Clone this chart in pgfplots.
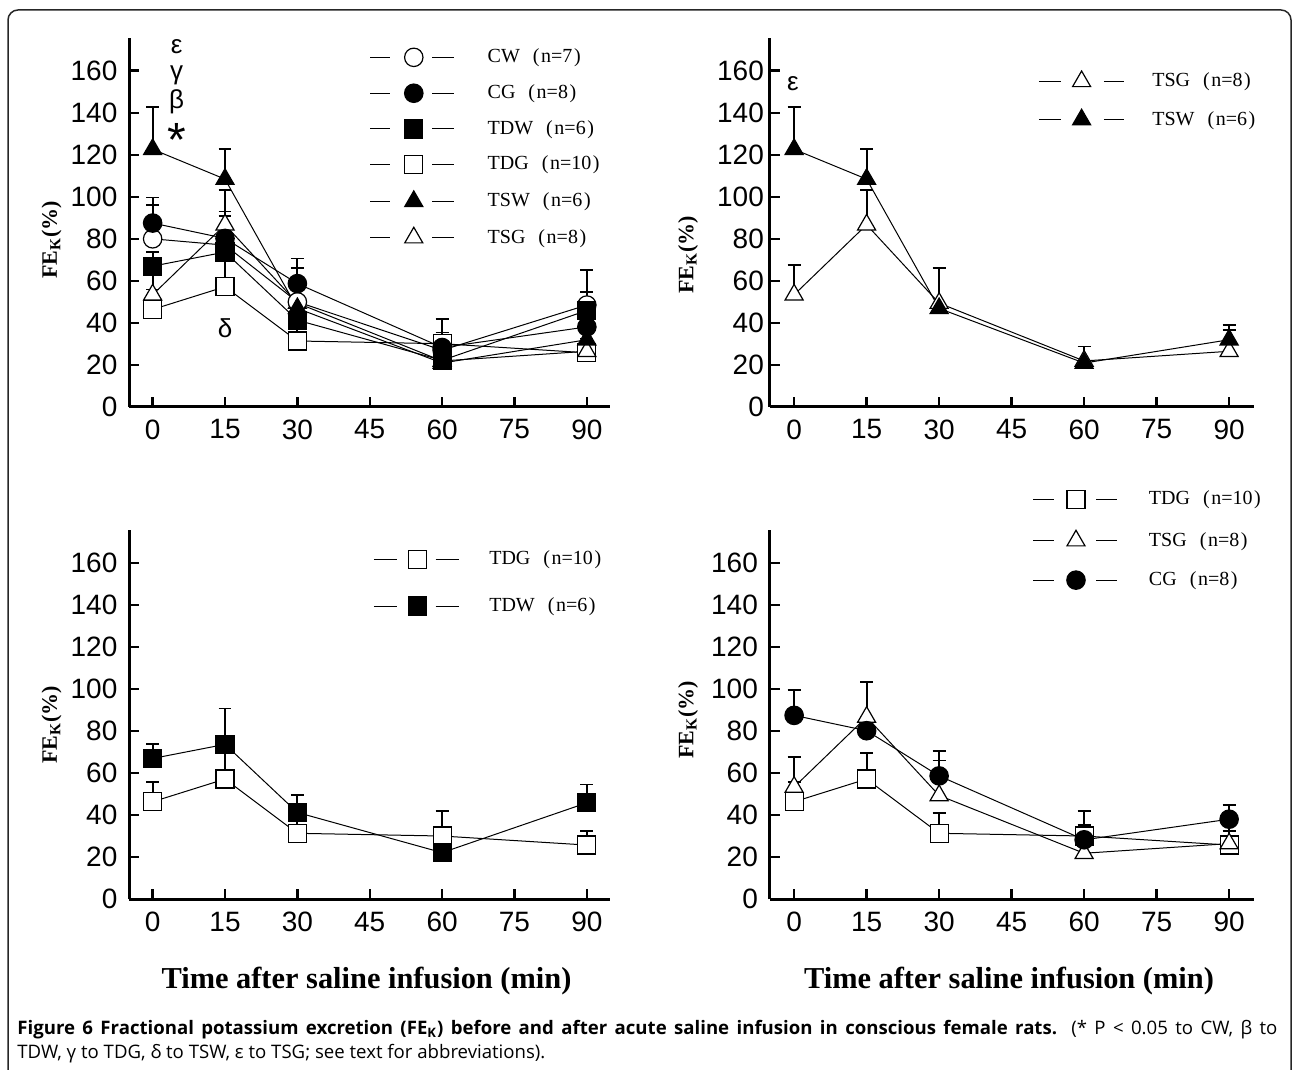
\documentclass[border=0pt]{standalone}
\usepackage{fontspec}
\setmainfont{Liberation Serif}
\newfontfamily\arial{Liberation Sans}
\newfontfamily\capfont{Open Sans}
\usepackage{pgfplots}
\usepackage{pgfplotstable}
\pgfplotsset{compat=1.18}

\pgfplotstableread{
x y e
0 80 16
15 77 16
30 50 0
60 27 0
90 48.5 16.8
}\CW
\pgfplotstableread{
x y e
0 87.5 12.2
15 80.2 0
30 58.7 11.9
60 28.3 7.1
90 38.1 6.9
}\CG
\pgfplotstableread{
x y e
0 67 6.7
15 73.7 17.1
30 41.3 8.3
60 22.2 0
90 45.9 8.7
}\TDW
\pgfplotstableread{
x y e
0 46.4 9.5
15 57.2 12.3
30 31.4 9.6
60 30.1 11.9
90 25.8 6.8
}\TDG
\pgfplotstableread{
x y e
0 122.6 20
15 108.4 14.2
30 46.9 0
60 20.9 7.9
90 32 7.1
}\TSW
\pgfplotstableread{
x y e
0 53.4 14.2
15 86.7 16.6
30 49.4 16.6
60 21.9 0
90 26.5 10.3
}\TSG

\tikzset{
 mCW/.style={mark=*, mark size=4.6pt, mark options={solid, fill=white, draw=black, line width=0.6pt}},
 mCG/.style={mark=*, mark size=4.6pt, mark options={solid, fill=black, draw=black, line width=0.6pt}},
 mTDW/.style={mark=square*, mark size=4.5pt, mark options={solid, fill=black, draw=black, line width=0.6pt}},
 mTDG/.style={mark=square*, mark size=4.5pt, mark options={solid, fill=white, draw=black, line width=0.6pt}},
 mTSW/.style={mark=triangle*, mark size=5.2pt, mark options={solid, fill=black, draw=black, line width=0.6pt}},
 mTSG/.style={mark=triangle*, mark size=5.2pt, mark options={solid, fill=white, draw=black, line width=0.6pt}},
}

\pgfplotsset{
 panel/.style={scale only axis, anchor=south west, clip=false,
   axis x line*=bottom, axis y line*=left,
   axis line style={line width=1.5pt, black},
   xtick={0,15,30,45,60,75,90}, ytick={0,20,...,160},
   ymin=0, ymax=175.55, height=184.5pt,
   tick align=inside, major tick length=5pt,
   major tick style={line width=1.2pt, black},
   ticklabel style={font=\fontsize{14}{14}\selectfont\arial},
   /pgf/number format/assume math mode=true,
   xticklabel style={yshift=-2.8pt},
   yticklabel style={xshift=-2.3pt},
   legend style={draw=none, fill=none, inner sep=0pt, outer sep=0pt,
     font=\fontsize{10}{10}\selectfont, cells={anchor=west},
     nodes={inner sep=0pt, outer sep=0pt},
     /tikz/every even column/.style={column sep=0pt},
     /tikz/every odd column/.style={column sep=0pt}},
 },
 leftpanel/.style={panel, width=240.5pt, xmin=-4.9, xmax=94.8},
 rightpanel/.style={panel, width=242.25pt, xmin=-5.09, xmax=95.15},
 ser/.style={black, line width=0.5pt, solid,
   /pgfplots/error bars/y dir=plus, /pgfplots/error bars/y explicit,
   /pgfplots/error bars/error bar style={line width=0.9pt, black},
   /pgfplots/error bars/error mark options={rotate=90, mark size=3.2pt, line width=0.9pt, black}},
 leg/.style n args={5}{legend image code/.code={
   \draw[##1, mark=none] (0pt,0pt) -- (#1,0pt);
   \draw[##1, mark=none] (#2,0pt) -- (#3,0pt);
   \draw[##1, only marks] plot coordinates {(#4,0pt)};
   \path (#5,0pt);
 }},
}

\begin{document}
\begin{tikzpicture}
\useasboundingbox (0,0) rectangle (646.5pt,534.5pt);
\draw[line width=0.75pt, rounded corners=5pt, black!85] (4pt,-5pt) -- (4pt,529.5pt) -- (645.5pt,529.5pt) -- (645.5pt,-5pt);

% ---------- top left ----------
\begin{axis}[leftpanel, at={(64.5pt,331pt)},
  leg={10pt}{30.85pt}{41.65pt}{21.65pt}{58.35pt},
  legend style={at={(0.501,0.9725)}, anchor=north west, row sep=8.75pt}]
\addplot[ser, mTDG, forget plot] table[x=x,y=y,y error=e] {\TDG};
\addplot[ser, mTSG, forget plot] table[x=x,y=y,y error=e] {\TSG};
\addplot[ser, mCW, forget plot] table[x=x,y=y,y error=e] {\CW};
\addplot[ser, mCG, forget plot] table[x=x,y=y,y error=e] {\CG};
\addplot[ser, mTDW, forget plot] table[x=x,y=y,y error=e] {\TDW};
\addplot[ser, mTSW, forget plot] table[x=x,y=y,y error=e] {\TSW};
\addlegendimage{black, line width=0.5pt, mCW}
\addlegendentry{CW\hspace{6.5pt}(\kern0.8pt n=7\kern0.8pt)}
\addlegendimage{black, line width=0.5pt, mCG}
\addlegendentry{CG\hspace{6.5pt}(\kern0.8pt n=8\kern0.8pt)}
\addlegendimage{black, line width=0.5pt, mTDW}
\addlegendentry{TDW\hspace{6.5pt}(\kern0.8pt n=6\kern0.8pt)}
\addlegendimage{black, line width=0.5pt, mTDG}
\addlegendentry{TDG\hspace{6.5pt}(\kern0.8pt n=10\kern0.8pt)}
\addlegendimage{black, line width=0.5pt, mTSW}
\addlegendentry{TSW\hspace{6.5pt}(\kern0.8pt n=6\kern0.8pt)}
\addlegendimage{black, line width=0.5pt, mTSG}
\addlegendentry{TSG\hspace{6.5pt}(\kern0.8pt n=8\kern0.8pt)}
\end{axis}

% ---------- top right ----------
\begin{axis}[rightpanel, at={(384.75pt,331pt)},
  yticklabel style={xshift=3pt},
  leg={11.15pt}{32.55pt}{42.75pt}{21.4pt}{56.5pt},
  legend style={at={(0.5548,0.9105)}, anchor=north west, row sep=9.7pt}]
\addplot[ser, mTSG, forget plot] table[x=x,y=y,y error=e] {\TSG};
\addplot[ser, mTSW, forget plot] table[x=x,y=y,y error=e] {\TSW};
\addlegendimage{black, line width=0.5pt, mTSG}
\addlegendentry{TSG\hspace{6.5pt}(\kern0.8pt n=8\kern0.8pt)}
\addlegendimage{black, line width=0.5pt, mTSW}
\addlegendentry{TSW\hspace{6.5pt}(\kern0.8pt n=6\kern0.8pt)}
\end{axis}

% ---------- bottom left ----------
\begin{axis}[leftpanel, at={(64.5pt,84.85pt)},
  leg={11.7pt}{30.85pt}{42.5pt}{21.7pt}{57.5pt},
  legend style={at={(0.5079,0.9453)}, anchor=north west, row sep=14.3pt}]
\addplot[ser, mTDG, forget plot] table[x=x,y=y,y error=e] {\TDG};
\addplot[ser, mTDW, forget plot] table[x=x,y=y,y error=e] {\TDW};
\addlegendimage{black, line width=0.5pt, mTDG}
\addlegendentry{TDG\hspace{6.5pt}(\kern0.8pt n=10\kern0.8pt)}
\addlegendimage{black, line width=0.5pt, mTDW}
\addlegendentry{TDW\hspace{6.5pt}(\kern0.8pt n=6\kern0.8pt)}
\end{axis}

% ---------- bottom right ----------
\begin{axis}[rightpanel, at={(384.75pt,84.85pt)},
  leg={10.25pt}{31.65pt}{41.85pt}{21.4pt}{57.65pt},
  legend style={at={(0.5432,1.1079)}, anchor=north west, row sep=10.9pt}]
\addplot[ser, mTDG, forget plot] table[x=x,y=y,y error=e] {\TDG};
\addplot[ser, mTSG, forget plot] table[x=x,y=y,y error=e] {\TSG};
\addplot[ser, mCG, forget plot] table[x=x,y=y,y error=e] {\CG};
\addlegendimage{black, line width=0.5pt, mTDG}
\addlegendentry{TDG\hspace{6.5pt}(\kern0.8pt n=10\kern0.8pt)}
\addlegendimage{black, line width=0.5pt, mTSG}
\addlegendentry{TSG\hspace{6.5pt}(\kern0.8pt n=8\kern0.8pt)}
\addlegendimage{black, line width=0.5pt, mCG}
\addlegendentry{CG\hspace{6.5pt}(\kern0.8pt n=8\kern0.8pt)}
\end{axis}

% ---------- annotations ----------
\begin{scope}[every node/.style={inner sep=0pt, font=\fontsize{13}{13}\selectfont\arial}]
\node at (88.35pt,511.15pt) {ε};
\node at (88.35pt,497pt) {γ};
\node at (88.35pt,483.65pt) {β};
\node[anchor=north, font=\fontsize{24}{24}\selectfont\arial] at (88.35pt,472.85pt) {*};
\node at (112.5pt,370.35pt) {δ};
\node at (396.45pt,492.85pt) {ε};
\end{scope}

% axis labels
\begin{scope}[every node/.style={inner sep=0pt}]
\node[rotate=90, font=\fontsize{11}{11}\selectfont\bfseries] at (25.85pt,414.5pt) {FE\textsubscript{K}(\%)};
\node[rotate=90, font=\fontsize{11}{11}\selectfont\bfseries] at (344pt,407pt) {FE\textsubscript{K}(\%)};
\node[rotate=90, font=\fontsize{11}{11}\selectfont\bfseries] at (25.85pt,172pt) {FE\textsubscript{K}(\%)};
\node[rotate=90, font=\fontsize{11}{11}\selectfont\bfseries] at (344pt,174.5pt) {FE\textsubscript{K}(\%)};
\node[font=\fontsize{15.2}{15.2}\selectfont\bfseries] at (183.25pt,44pt) {Time after saline infusion (min)};
\node[font=\fontsize{15.2}{15.2}\selectfont\bfseries] at (504.5pt,44pt) {Time after saline infusion (min)};
\end{scope}

% caption
\node[anchor=north west, inner sep=0pt, text width=630pt, align=justify,
      font=\capfont\fontsize{9.3}{12}\selectfont] at (8.5pt,24.5pt)
 {\textbf{Figure 6 Fractional potassium excretion (FE\textsubscript{K}) before and after acute saline infusion in conscious female rats.} (* P < 0.05 to CW, β to\linebreak TDW, γ to TDG, δ to TSW, ε to TSG; see text for abbreviations).};
\end{tikzpicture}
\end{document}
